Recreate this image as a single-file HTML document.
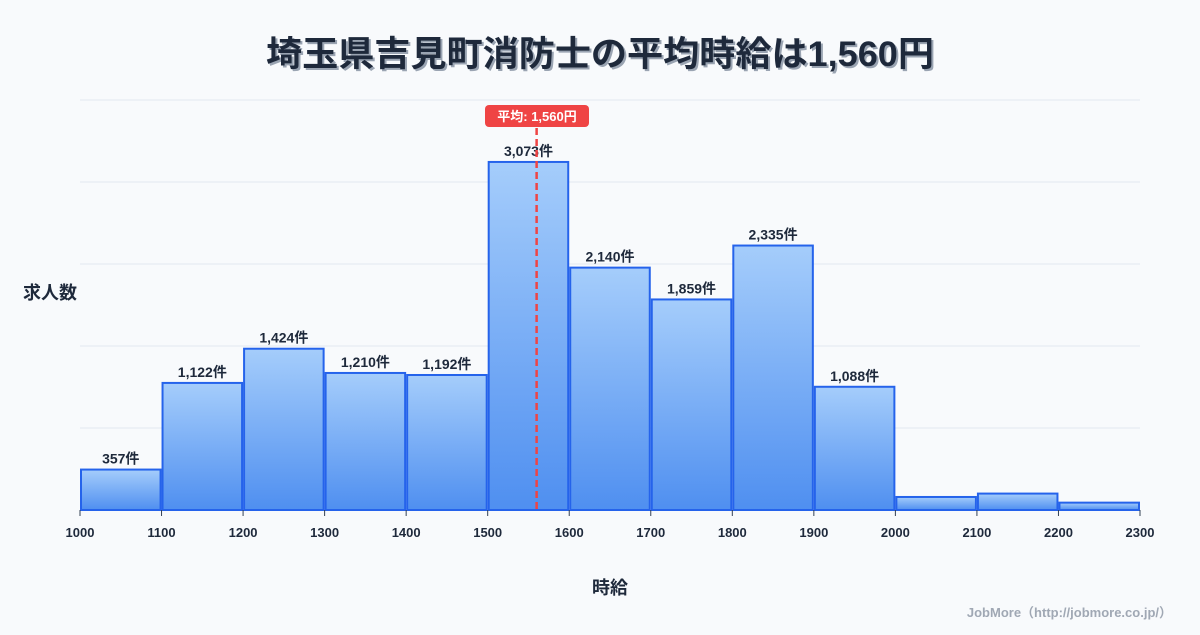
<!DOCTYPE html>
<html><head><meta charset="utf-8"><style>
body{margin:0;background:#f8fafc;font-family:"Liberation Sans","Noto Sans CJK JP",sans-serif;}
svg text{font-family:"Liberation Sans","Noto Sans CJK JP",sans-serif;}
</style></head><body>
<svg id="c" width="1200" height="630" viewBox="0 0 1200 630">
<defs><linearGradient id="g" x1="0" y1="0" x2="0" y2="1"><stop offset="0" stop-color="#a5cdfb"/><stop offset="1" stop-color="#4f8ff0"/></linearGradient></defs>
<text x="600" y="66" text-anchor="middle" font-size="35" font-weight="bold" fill="#9aa4b2" transform="translate(2,2)" textLength="668" lengthAdjust="spacingAndGlyphs">埼玉県吉見町消防士の平均時給は1,560円</text>
<text x="600" y="66" text-anchor="middle" font-size="35" font-weight="bold" fill="#1e293b" textLength="668" lengthAdjust="spacingAndGlyphs">埼玉県吉見町消防士の平均時給は1,560円</text>
<text x="50" y="299" text-anchor="middle" font-size="18" font-weight="bold" fill="#1e293b">求人数</text>
<text x="610" y="594" text-anchor="middle" font-size="18" font-weight="bold" fill="#1e293b">時給</text>
<text x="1172" y="617" text-anchor="end" font-size="13" font-weight="bold" fill="#a0a8b4">JobMore（http://jobmore.co.jp/）</text>
<g id="grid"></g><g id="bars"></g><g id="xt"></g><g id="avg"></g>
</svg>
<script>
const binStarts=[1000,1100,1200,1300,1400,1500,1600,1700,1800,1900,2000,2100,2200];
const counts=[357,1122,1424,1210,1192,3073,2140,1859,2335,1088,115,145,65];
const labels=["357件","1,122件","1,424件","1,210件","1,192件","3,073件","2,140件","1,859件","2,335件","1,088件","","",""];
const xTicks=[1000,1100,1200,1300,1400,1500,1600,1700,1800,1900,2000,2100,2200,2300];
const avgValue=1560;
const avgLabel="平均: 1,560円";
const yMax=3620;
const X=v=>80+(v-1000)*1060/1300;
const Y=v=>510-v*410/yMax;
const NS="http://www.w3.org/2000/svg";
function mk(p,t,a){const e=document.createElementNS(NS,t);for(const k in a)e.setAttribute(k,a[k]);document.getElementById(p).appendChild(e);return e;}
for(let i=0;i<=5;i++){const y=510-i*82;const l=mk('grid','line',{x1:80,x2:1140,y1:y,y2:y,stroke:'#e2e8f0','stroke-width':1});

}
binStarts.forEach((b,i)=>{
const x0=X(b)+1,x1=X(b+100)-1,y=Y(counts[i]);
const r=mk('bars','rect',{x:x0,y:y,width:x1-x0,height:510-y,fill:'url(#g)',stroke:'#2563eb','stroke-width':2});


if(labels[i]){const t=mk('bars','text',{x:(x0+x1)/2,y:y-6,'text-anchor':'middle','font-size':14,'font-weight':'bold',fill:'#1e293b'});t.textContent=labels[i];

}
});
xTicks.forEach(v=>{const x=X(v);mk('xt','line',{x1:x,x2:x,y1:510,y2:516,stroke:'#334155','stroke-width':1});
const t=mk('xt','text',{x:x,y:537,'text-anchor':'middle','font-size':13,'font-weight':'bold',fill:'#1e293b'});t.textContent=v;

});
const ax=X(avgValue);
const al=mk('avg','line',{x1:ax,x2:ax,y1:128,y2:510,stroke:'#ef4444','stroke-width':2.5,'stroke-dasharray':'7,4'});


const ab=mk('avg','rect',{x:485,y:105,width:104,height:22,rx:4,fill:'#ef4444'});


const at=mk('avg','text',{x:537,y:121,'text-anchor':'middle','font-size':13,'font-weight':'bold',fill:'#fff'});at.textContent=avgLabel;


</script>
</body></html>
